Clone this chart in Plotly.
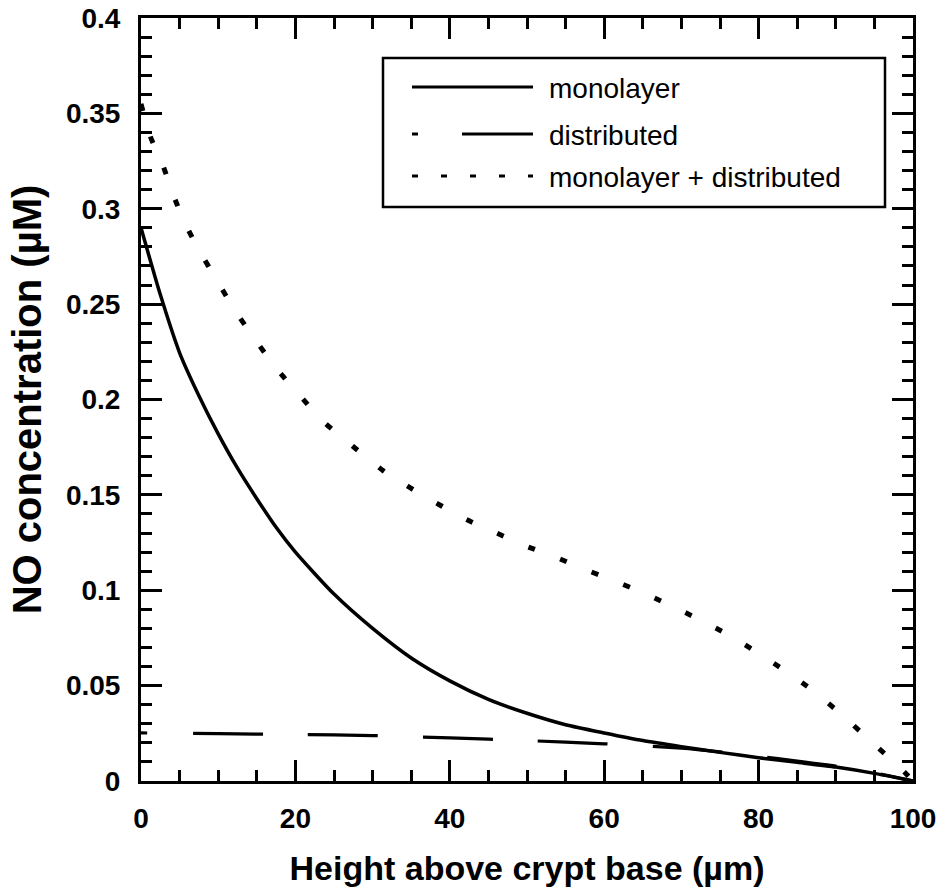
import plotly.graph_objects as go

# ---------------- data ----------------
mono_x = [0, 2.5, 5, 7.5, 10, 12.5, 15, 17.5, 20, 25, 30, 35, 40, 45, 50, 55, 60, 65, 70, 75, 80, 85, 90, 95, 100]
mono_y = [0.290, 0.255, 0.2245, 0.202, 0.182, 0.164, 0.148, 0.133, 0.120, 0.098, 0.080, 0.0645,
          0.0525, 0.0428, 0.0355, 0.0295, 0.0252, 0.0212, 0.0180, 0.0150, 0.0122, 0.0098, 0.0073, 0.0040, 0.0]

dist_x = [0, 10, 20, 30, 40, 50, 60, 70, 75, 80, 85, 90, 95, 100]
dist_y = [0.0252, 0.0248, 0.0244, 0.0238, 0.0226, 0.0212, 0.0195, 0.0172, 0.0153, 0.0130, 0.0105, 0.0078, 0.0043, 0.0]

comb_x = [0, 1.2, 2.9, 4.2, 5.7, 7.55, 9.8, 12.05, 14.5, 17.4, 20.5, 23.8, 27.4, 31.4, 35, 38.7, 42.3,
          45.9, 49.9, 53.3, 57.1, 60.8, 64.4, 68.3, 71.8, 76, 79.5, 83.1, 87.1, 90.7, 94.6, 98.2, 100]
comb_y = [0.355, 0.338, 0.322, 0.307, 0.2925, 0.278, 0.2627, 0.2474, 0.233, 0.217, 0.2024, 0.1878, 0.1756,
          0.1626, 0.1534, 0.1447, 0.1368, 0.1303, 0.1231, 0.118, 0.1116, 0.1057, 0.0998, 0.0926, 0.0857,
          0.0768, 0.0682, 0.0587, 0.0472, 0.035, 0.0206, 0.0075, 0.0]

series_names = ["monolayer", "distributed", "monolayer + distributed"]

x_tickvals = [0, 20, 40, 60, 80, 100]
x_ticktext = ["0", "20", "40", "60", "80", "100"]
y_tickvals = [0, 0.05, 0.1, 0.15, 0.2, 0.25, 0.3, 0.35, 0.4]
y_ticktext = ["0", "0.05", "0.1", "0.15", "0.2", "0.25", "0.3", "0.35", "0.4"]

x_title = "Height above crypt base (\u00b5m)"
y_title = "NO concentration (\u00b5M)"

# ---------------- styles ----------------
FONT = "Liberation Sans, Arial, Helvetica, sans-serif"
DIST_DASH = "6px,46px," + ",".join(["70px,45px"] * 8)
COMB_DASH = "7px,27px"

fig = go.Figure()
fig.add_trace(go.Scatter(x=mono_x, y=mono_y, mode="lines", name=series_names[0],
                         line=dict(color="black", width=3.5, shape="spline", smoothing=0.6),
                         showlegend=False))
fig.add_trace(go.Scatter(x=dist_x, y=dist_y, mode="lines", name=series_names[1],
                         line=dict(color="black", width=3.2, dash=DIST_DASH, shape="spline", smoothing=0.6),
                         showlegend=False))
fig.add_trace(go.Scatter(x=comb_x, y=comb_y, mode="lines", name=series_names[2],
                         line=dict(color="black", width=5, dash=COMB_DASH, shape="spline", smoothing=0.6),
                         showlegend=False))

axis_common = dict(
    showgrid=False, zeroline=False,
    showline=True, linecolor="black", linewidth=3, mirror="ticks",
    ticks="inside", ticklen=21, tickwidth=3, tickcolor="black",
    tickfont=dict(family=FONT, size=28, color="black", weight="bold"),
    ticklabeloverflow="allow",
)

fig.update_xaxes(
    range=[0, 100], tickmode="array", tickvals=x_tickvals, ticktext=x_ticktext,
    minor=dict(ticks="inside", ticklen=11, tickwidth=3, tickcolor="black", dtick=5, tick0=0, showgrid=False),
    ticklabelstandoff=10,
    title=dict(text=x_title, font=dict(family=FONT, size=34, color="black", weight="bold"), standoff=24),
    **axis_common,
)
fig.update_yaxes(
    range=[0, 0.4], tickmode="array", tickvals=y_tickvals, ticktext=y_ticktext,
    minor=dict(ticks="inside", ticklen=11, tickwidth=3, tickcolor="black", dtick=0.01, tick0=0, showgrid=False),
    ticklabelstandoff=12,
    title=dict(text=y_title, font=dict(family=FONT, size=40, color="black", weight="bold"), standoff=12),
    **axis_common,
)

# ---------------- manual legend ----------------
L, R, T, B = 141, 913, 18, 781
W, H = R - L, B - T
px = lambda v: (v - L) / W
py = lambda v: (B - v) / H

fig.add_shape(type="rect", xref="paper", yref="paper",
              x0=px(383), x1=px(885), y0=py(207), y1=py(58),
              line=dict(color="black", width=2.5), fillcolor="white", layer="above")
rows = [87, 134, 176]
dashes = ["solid", "6px,44px,71px,100px", "6px,23px"]
for name, ry, dsh in zip(series_names, rows, dashes):
    fig.add_shape(type="line", xref="paper", yref="paper",
                  x0=px(412), x1=px(533), y0=py(ry), y1=py(ry),
                  line=dict(color="black", width=3, dash=dsh), layer="above")
    fig.add_annotation(xref="paper", yref="paper", x=px(547), y=py(ry + 1),
                       text=name, showarrow=False, xanchor="left", yanchor="middle",
                       font=dict(family=FONT, size=28, color="black"))

fig.update_layout(
    width=936, height=890,
    margin=dict(l=L, r=936 - R, t=T, b=890 - B, autoexpand=False),
    paper_bgcolor="white", plot_bgcolor="white",
    showlegend=False,
)

fig.write_html("out.html")
